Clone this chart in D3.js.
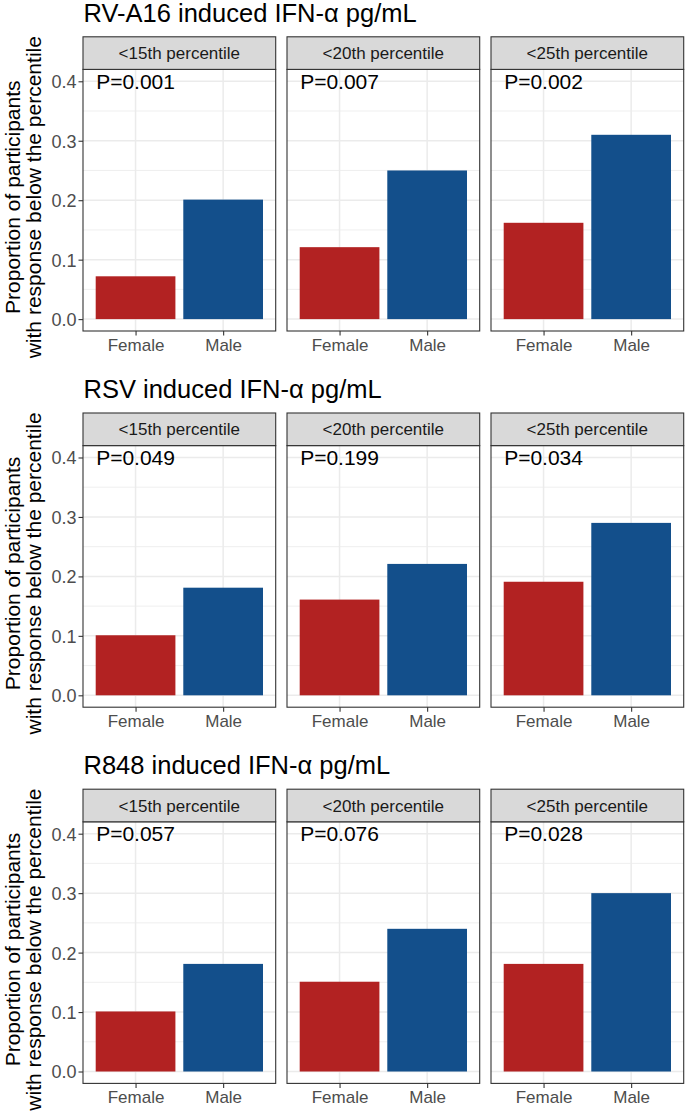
<!DOCTYPE html>
<html>
<head>
<meta charset="utf-8">
<script src="https://cdn.jsdelivr.net/npm/d3@7"></script>
<style>
  html, body { margin: 0; padding: 0; background: #ffffff; }
  svg { display: block; font-family: "Liberation Sans", Arial, Helvetica, sans-serif; }
</style>
</head>
<body>
<svg id="chart" width="685" height="1115"></svg>
<script>
// ---------------- data ----------------
const rowTitles = ["RV-A16 induced IFN-α pg/mL", "RSV induced IFN-α pg/mL", "R848 induced IFN-α pg/mL"];
const percentiles = ["<15th percentile", "<20th percentile", "<25th percentile"];
const sexes = ["Female", "Male"];
const femaleValues = [
  [0.072, 0.121, 0.162],
  [0.101, 0.161, 0.191],
  [0.101, 0.151, 0.181]
];
const maleValues = [
  [0.201, 0.250, 0.310],
  [0.181, 0.221, 0.290],
  [0.181, 0.240, 0.300]
];
const pLabels = [
  ["P=0.001", "P=0.007", "P=0.002"],
  ["P=0.049", "P=0.199", "P=0.034"],
  ["P=0.057", "P=0.076", "P=0.028"]
];
const yTicks = [0, 0.1, 0.2, 0.3, 0.4];
const yMinorTicks = [0.05, 0.15, 0.25, 0.35];
const yTitleLines = ["Proportion of participants", "with response below the percentile"];
const sexColors = ["#b22222", "#134f8b"];

// ---------------- layout ----------------
const svg = d3.select("#chart");
const panelLeft = 83, panelW = 192.7, panelGap = 11.3;
const row0StripTop = 36.8, rowStep = 376.2, stripH = 32.6, panelH = 261.6;

const x = d3.scaleLinear().domain([0.4, 2.6]);
const barW = 0.91;

rowTitles.forEach((title, r) => {
  const stripTop = row0StripTop + r * rowStep;
  const pTop = stripTop + stripH;
  const pBot = pTop + panelH;
  const y = d3.scaleLinear().domain([-0.02, 0.42]).range([pBot, pTop]);

  // row title
  svg.append("text")
    .attr("x", panelLeft + 0.5)
    .attr("y", stripTop - 15.3)
    .attr("font-size", 25.5)
    .attr("fill", "#000")
    .text(title);

  // y-axis title (two lines)
  const yc = (pTop + pBot) / 2 - 3;
  const yt = svg.append("g").attr("transform", `translate(0,${yc}) rotate(-90)`);
  yTitleLines.forEach((line, i) => {
    yt.append("text")
      .attr("x", 0)
      .attr("y", 19.5 + i * 21.5)
      .attr("text-anchor", "middle")
      .attr("font-size", 21)
      .attr("fill", "#000")
      .text(line);
  });

  // y axis (left of first panel)
  const yAxis = d3.axisLeft(y).tickValues(yTicks).tickFormat(d3.format(".1f")).tickSize(4.5).tickPadding(2);
  const ya = svg.append("g").attr("transform", `translate(${panelLeft},0)`).call(yAxis);
  ya.select(".domain").remove();
  ya.selectAll(".tick line").attr("stroke", "#333").attr("stroke-width", 1.1);
  ya.selectAll(".tick text").attr("font-size", 18).attr("fill", "#4d4d4d")
    .attr("font-family", "'Liberation Sans', Arial, sans-serif").attr("dy", "0.36em");

  percentiles.forEach((pct, c) => {
    const x0 = panelLeft + c * (panelW + panelGap);
    const xs = x.copy().range([x0, x0 + panelW]);
    const g = svg.append("g");

    // panel background
    g.append("rect").attr("x", x0).attr("y", pTop).attr("width", panelW).attr("height", panelH).attr("fill", "#fff");

    // minor gridlines
    g.selectAll(".minor").data(yMinorTicks).join("line")
      .attr("x1", x0).attr("x2", x0 + panelW)
      .attr("y1", d => y(d)).attr("y2", d => y(d))
      .attr("stroke", "#ebebeb").attr("stroke-width", 0.8);
    // major gridlines
    g.selectAll(".major").data(yTicks).join("line")
      .attr("x1", x0).attr("x2", x0 + panelW)
      .attr("y1", d => y(d)).attr("y2", d => y(d))
      .attr("stroke", "#ebebeb").attr("stroke-width", 1.5);
    g.selectAll(".vmajor").data(sexes).join("line")
      .attr("x1", (d, i) => xs(i + 1)).attr("x2", (d, i) => xs(i + 1))
      .attr("y1", pTop).attr("y2", pBot)
      .attr("stroke", "#ebebeb").attr("stroke-width", 1.5);

    // bars
    const vals = [femaleValues[r][c], maleValues[r][c]];
    g.selectAll(".bar").data(vals).join("rect")
      .attr("x", (d, i) => xs(i + 1 - barW / 2))
      .attr("width", (d, i) => xs(i + 1 + barW / 2) - xs(i + 1 - barW / 2))
      .attr("y", d => y(d))
      .attr("height", d => y(0) - y(d))
      .attr("fill", (d, i) => sexColors[i]);

    // p label
    g.append("text")
      .attr("x", xs(1))
      .attr("y", y(0.4))
      .attr("dy", "0.36em")
      .attr("text-anchor", "middle")
      .attr("font-size", 21)
      .attr("fill", "#000")
      .text(pLabels[r][c]);

    // panel border
    g.append("rect").attr("x", x0).attr("y", pTop).attr("width", panelW).attr("height", panelH)
      .attr("fill", "none").attr("stroke", "#333").attr("stroke-width", 1.1);

    // strip
    g.append("rect").attr("x", x0).attr("y", stripTop).attr("width", panelW).attr("height", stripH)
      .attr("fill", "#d9d9d9").attr("stroke", "#333").attr("stroke-width", 1.1);
    g.append("text")
      .attr("x", x0 + panelW / 2)
      .attr("y", stripTop + stripH / 2)
      .attr("dy", "0.36em")
      .attr("text-anchor", "middle")
      .attr("font-size", 17)
      .attr("fill", "#1a1a1a")
      .text(pct);

    // x axis
    const xAxis = d3.axisBottom(xs).tickValues([1, 2]).tickFormat((d) => sexes[d - 1]).tickSize(4.5).tickPadding(3);
    const xa = svg.append("g").attr("transform", `translate(0,${pBot})`).call(xAxis);
    xa.select(".domain").remove();
    xa.selectAll(".tick line").attr("stroke", "#333").attr("stroke-width", 1.1);
    xa.selectAll(".tick text").attr("font-size", 17).attr("fill", "#4d4d4d")
      .attr("font-family", "'Liberation Sans', Arial, sans-serif");
  });
});
</script>
</body>
</html>
